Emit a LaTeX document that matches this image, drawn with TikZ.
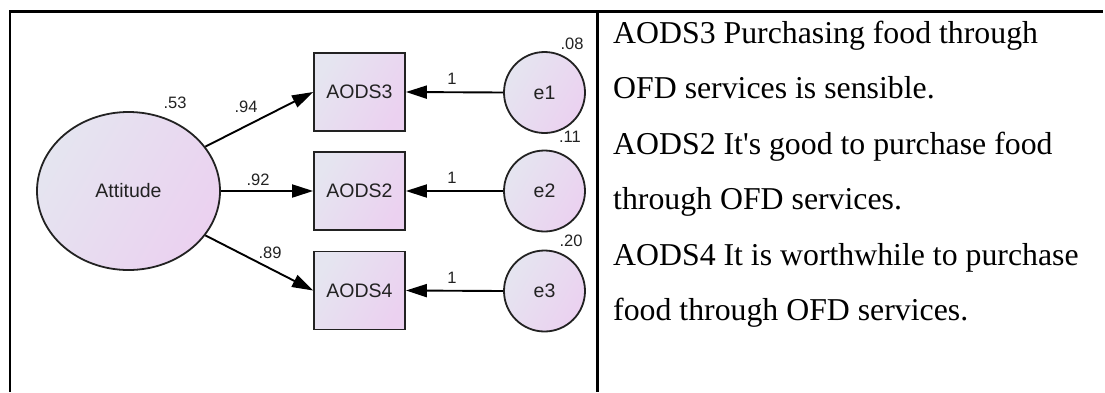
\documentclass[tikz,border=0pt]{standalone}
\usepackage{fontspec}
\setmainfont{Liberation Serif}[Ligatures=TeXOff]
\newfontfamily\diagfont{Liberation Sans}
\usetikzlibrary{arrows.meta,shapes.geometric}
\definecolor{fillA}{HTML}{E5E5F0}
\definecolor{fillB}{HTML}{EBD1F0}
\definecolor{inkgray}{HTML}{222222}
\begin{document}
\begin{tikzpicture}[x=1pt,y=-1pt,
  shapefill/.style={draw=inkgray,line width=1.8pt,shading=axis,left color=fillA,right color=fillB,shading angle=60},
  latent/.style={shapefill,ellipse,minimum width=183pt,minimum height=158pt,inner sep=0pt,
     font=\diagfont\fontsize{19.5}{22}\selectfont,text=inkgray},
  observed/.style={shapefill,rectangle,minimum width=91pt,minimum height=78pt,inner sep=0pt,
     font=\diagfont\fontsize{19.5}{22}\selectfont,text=inkgray},
  errnode/.style={shapefill,circle,minimum size=81pt,inner sep=0pt,
     font=\diagfont\fontsize{19.5}{22}\selectfont,text=inkgray},
  estim/.style={font=\diagfont\fontsize{16.5}{18}\selectfont,text=inkgray,inner sep=0pt},
  loading/.style={draw=black,line width=1.9pt,-{Triangle[length=21pt,width=13pt]}},
  frame/.style={draw=black,line width=2.2pt},
  desc/.style={anchor=base west,inner sep=0pt,font=\fontsize{31.8}{36}\selectfont}
]
\useasboundingbox (0,0) rectangle (1105,392);

% table frame
\draw[frame] (10,392) -- (10,11.5) -- (1103,11.5);
\draw[frame] (597.5,11.5) -- (597.5,392);

% latent factor, indicators and error terms
\node[latent]   (att) at (128.5,191) {Attitude};
\node[observed] (a3)  at (359.5,92)  {AODS3};
\node[observed] (a2)  at (359.5,191) {AODS2};
\node[observed] (a4)  at (359.5,290.5) {AODS4};
\node[errnode]  (e1)  at (544.5,92.5)  {e1};
\node[errnode]  (e2)  at (544.5,191)   {e2};
\node[errnode]  (e3)  at (544.5,291)   {e3};

% loadings
\draw[loading] (att.30)  -- (a3.west);
\draw[loading] (att.east) -- (a2.west);
\draw[loading] (att.-30) -- (a4.west);
\draw[loading] (e1.west) -- (a3.east);
\draw[loading] (e2.west) -- (a2.east);
\draw[loading] (e3.west) -- (a4.east);

% estimates
\node[estim] (r2att) at (175,103) {.53};
\node[estim] (l3) at (246,107) {.94};
\node[estim] (l2) at (258,180) {.92};
\node[estim] (l4) at (270,253) {.89};
\node[estim] (f1) at (452,79)  {1};
\node[estim] (f2) at (452,178) {1};
\node[estim] (f3) at (452,278) {1};
\node[estim] (v1) at (572,44)  {.08};
\node[estim] (v2) at (570,137) {.11};
\node[estim] (v3) at (571,241) {.20};

% item wording
\node[desc] (t1) at (613,43)    {AODS3 Purchasing food through};
\node[desc] (t2) at (613,98.5)  {OFD services is sensible.};
\node[desc] (t3) at (613,154)   {AODS2 It's good to purchase food};
\node[desc] (t4) at (613,209.5) {through OFD services.};
\node[desc] (t5) at (613,265)   {AODS4 It is worthwhile to purchase};
\node[desc] (t6) at (613,320.5) {food through OFD services.};
\end{tikzpicture}
\end{document}
